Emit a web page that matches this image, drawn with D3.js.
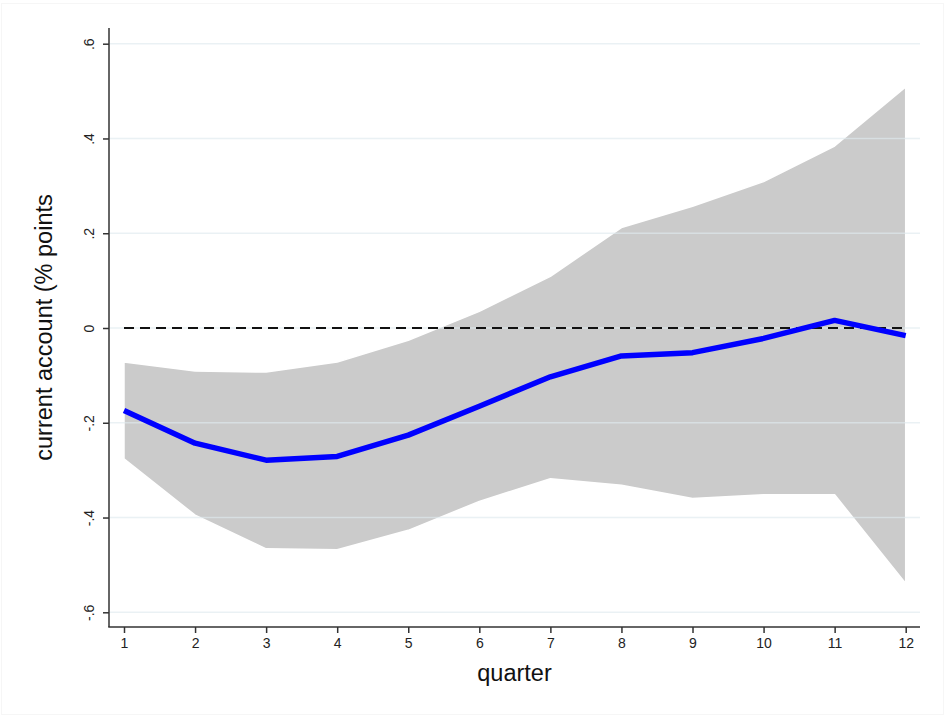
<!DOCTYPE html>
<html>
<head>
<meta charset="utf-8">
<script src="https://cdn.jsdelivr.net/npm/d3@7"></script>
<style>
  body { margin: 0; background: #fff; }
  svg { display: block; font-family: Arial, "Liberation Sans", sans-serif; }
</style>
</head>
<body>
<figure id="irf" style="margin:0"></figure>
<script>
// impulse response of the current account, by quarter
const quarters = [1, 2, 3, 4, 5, 6, 7, 8, 9, 10, 11, 12];
const estimate = [-0.174, -0.243, -0.279, -0.271, -0.226, -0.165, -0.103, -0.059, -0.052, -0.022, 0.016, -0.016];
const upper = [-0.072, -0.091, -0.093, -0.072, -0.026, 0.035, 0.109, 0.212, 0.257, 0.309, 0.384, 0.509];
const lower = [-0.276, -0.395, -0.466, -0.468, -0.427, -0.366, -0.318, -0.332, -0.360, -0.352, -0.352, -0.539];
const yTicks = [-0.6, -0.4, -0.2, 0, 0.2, 0.4, 0.6];
const yTickLabels = ["-.6", "-.4", "-.2", "0", ".2", ".4", ".6"];

const width = 945, height = 717;
const plotLeft = 109, plotRight = 920, plotTop = 28, plotBottom = 627;

const svg = d3.select("figure#irf")
  .append("svg")
  .attr("width", width)
  .attr("height", height);

// faint outer frame
svg.append("rect")
  .attr("x", 1.5).attr("y", 3.5)
  .attr("width", width - 3).attr("height", height - 6)
  .attr("fill", "none")
  .attr("stroke", "#f6f6f6");

var x = d3.scaleLinear()
  .domain([1, 12])
  .range([124, 905.7]);

var y = d3.scaleLinear()
  .domain([-0.6, 0.6])
  .range([612.3, 43.7]);

const rows = quarters.map((q, i) => ({ q: q, est: estimate[i], lo: lower[i], hi: upper[i] }));

// confidence band
svg.append("path")
  .datum(rows)
  .attr("fill", "#cbcbcb")
  .attr("stroke", "#fff")
  .attr("stroke-width", 1.5)
  .attr("stroke-linejoin", "round")
  .attr("d", d3.area()
    .x(d => x(d.q))
    .y0(d => y(d.lo))
    .y1(d => y(d.hi)));

// gridlines (drawn over the band, very light)
svg.append("g")
  .selectAll("line")
  .data(yTicks)
  .join("line")
  .attr("x1", plotLeft + 1).attr("x2", plotRight)
  .attr("y1", d => y(d)).attr("y2", d => y(d))
  .attr("stroke", "#dfeaee")
  .attr("stroke-opacity", 0.65)
  .attr("stroke-width", 1.5);

// zero reference line
svg.append("line")
  .attr("x1", x(1)).attr("x2", x(12))
  .attr("y1", y(0)).attr("y2", y(0))
  .attr("stroke", "#111")
  .attr("stroke-width", 2)
  .attr("stroke-dasharray", "10,6");

// point estimate
svg.append("path")
  .datum(rows)
  .attr("fill", "none")
  .attr("stroke", "#0000ff")
  .attr("stroke-width", 5.5)
  .attr("stroke-linejoin", "round")
  .attr("d", d3.line()
    .x(d => x(d.q))
    .y(d => y(d.est)));

// y axis
const yAxis = svg.append("g")
  .attr("transform", "translate(" + plotLeft + ",0)")
  .call(d3.axisLeft(y).tickValues(yTicks).tickFormat((d, i) => yTickLabels[i]).tickSize(6).tickSizeOuter(0));
yAxis.select(".domain").remove();
yAxis.append("line")
  .attr("x1", 0).attr("x2", 0)
  .attr("y1", plotTop).attr("y2", plotBottom)
  .attr("stroke", "#333").attr("stroke-width", 1.5);
yAxis.selectAll(".tick line").attr("stroke", "#333").attr("stroke-width", 1.5);
yAxis.selectAll(".tick text")
  .attr("x", 0).attr("dy", null)
  .attr("text-anchor", "middle")
  .attr("transform", "translate(-20,0) rotate(-90)")
  .attr("dominant-baseline", "central")
  .style("font-size", "14px")
  .attr("fill", "#222");

// x axis
const xAxis = svg.append("g")
  .attr("transform", "translate(0," + plotBottom + ")")
  .call(d3.axisBottom(x).tickValues(quarters).tickFormat(d3.format("d")).tickSize(6).tickSizeOuter(0));
xAxis.select(".domain").remove();
xAxis.append("line")
  .attr("x1", plotLeft - 0.75).attr("x2", plotRight)
  .attr("y1", 0).attr("y2", 0)
  .attr("stroke", "#333").attr("stroke-width", 1.5);
xAxis.selectAll(".tick line").attr("stroke", "#333").attr("stroke-width", 1.5);
xAxis.selectAll(".tick text")
  .attr("y", 11)
  .style("font-size", "14px")
  .attr("fill", "#222");

// axis titles
svg.append("text")
  .attr("x", (plotLeft + plotRight) / 2)
  .attr("y", 681)
  .attr("text-anchor", "middle")
  .style("font-size", "23.5px")
  .attr("fill", "#111")
  .text("quarter");

svg.append("text")
  .attr("transform", "translate(52," + ((plotTop + plotBottom) / 2) + ") rotate(-90)")
  .attr("text-anchor", "middle")
  .style("font-size", "23.5px")
  .attr("fill", "#111")
  .text("current account (% points");
</script>
</body>
</html>
